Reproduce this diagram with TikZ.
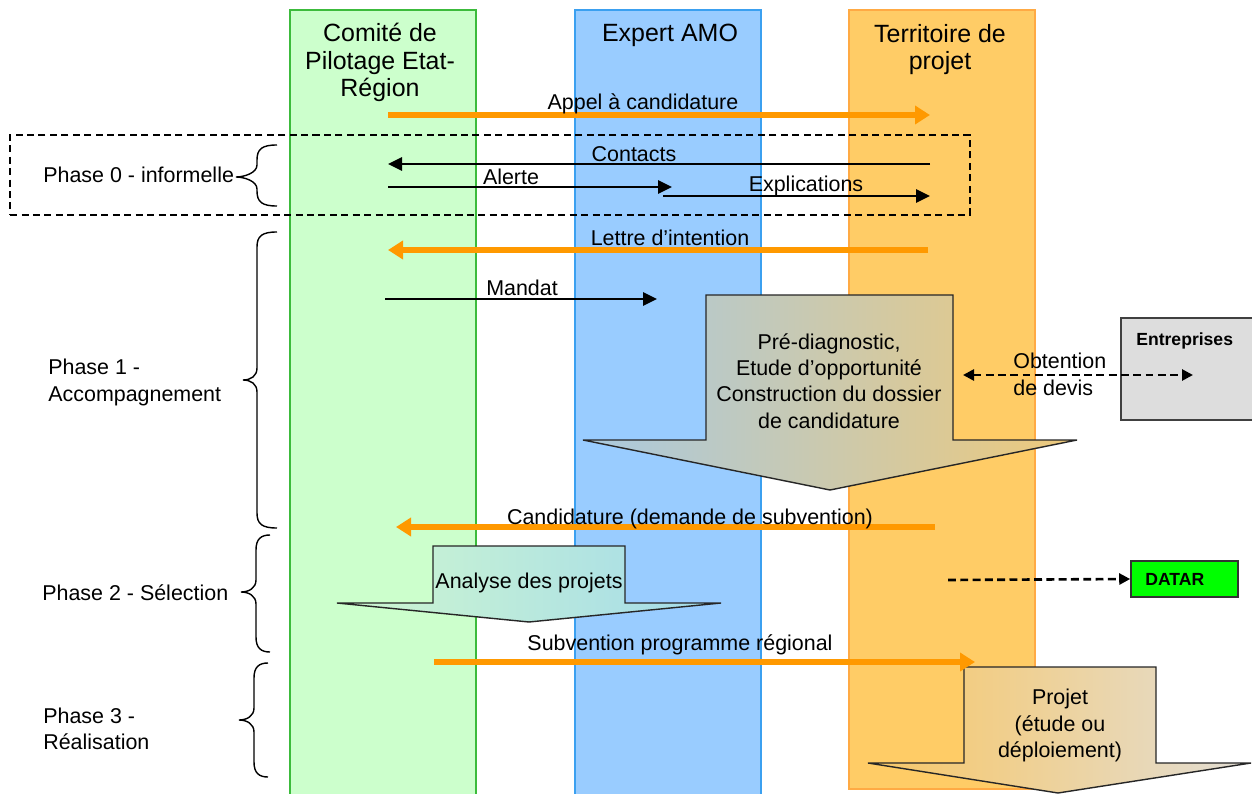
\documentclass[tikz,border=0pt]{standalone}
\usepackage{fontspec}
\setmainfont{Liberation Sans}
\usetikzlibrary{arrows.meta}
\definecolor{colgreen}{HTML}{CCFFCC}
\definecolor{colgreenb}{HTML}{3CBB3C}
\definecolor{colblue}{HTML}{99CCFF}
\definecolor{colblueb}{HTML}{3BA0F0}
\definecolor{colorange}{HTML}{FFCC66}
\definecolor{colorangeb}{HTML}{FFAA44}
\definecolor{arrorange}{HTML}{FF9900}
\definecolor{entgray}{HTML}{DDDDDD}
\definecolor{datargreen}{HTML}{00FF00}
\definecolor{gOneL}{HTML}{A9C9E0}
\definecolor{gOneR}{HTML}{EEC97A}
\definecolor{gTwoL}{HTML}{CFF7CF}
\definecolor{gTwoR}{HTML}{A3DAEB}
\definecolor{gThreeL}{HTML}{F8C766}
\definecolor{gThreeR}{HTML}{E2DED6}
\newcommand{\PhBrace}[6]{%
  \draw[line width=0.8pt] (#1,#4) .. controls ({#2+5},#4) and (#2,{#4+4}) .. (#2,{#4+15})
    -- (#2,{#5-12}) .. controls (#2,{#5-4}) and ({#3+8},#5) .. (#3,#5)
    .. controls ({#3+8},#5) and (#2,{#5+4}) .. (#2,{#5+12})
    -- (#2,{#6-15}) .. controls (#2,{#6-4}) and ({#2+5},#6) .. (#1,#6);}
\begin{document}
\begin{tikzpicture}[x=0.02cm,y=-0.02cm,
  lab/.style={font=\fontsize{12.2}{14.8}\selectfont, inner sep=0pt},
  hdr/.style={font=\fontsize{14.2}{15.9}\selectfont, inner sep=0pt, align=center},
  lane/.style={line width=0.7pt, inner sep=0pt, minimum width=3.72cm},
  orarrow/.style={draw=arrorange, line width=3.4pt, -{Triangle[length=0.3cm,width=0.36cm]}},
  bkarrow/.style={draw=black, line width=1.6pt, -{Triangle[length=0.28cm,width=0.26cm]}},
  dsharrow/.style={draw=black, line width=1.5pt, dash pattern=on 4.5pt off 2.5pt},
  blockarrow/.style={draw=black!85, line width=0.8pt},
  boldlab/.style={font=\bfseries\fontsize{10}{12}\selectfont, inner sep=0pt},
]
\useasboundingbox (0,0) rectangle (1252,794);
\fill[white] (0,0) rectangle (1252,794);

% lanes
\node[lane, draw=colgreenb, fill=colgreen, minimum height=15.8cm] (comite) at (383,405) {};
\node[lane, draw=colblueb, fill=colblue, minimum height=15.8cm] (expert) at (668,405) {};
\node[lane, draw=colorangeb, fill=colorange, minimum height=15.58cm] (terr) at (942,399.5) {};

% headers (anchor=base = baseline of last line)
\node[hdr, anchor=base] (hcomite) at (380,97) {Comité de\\Pilotage Etat-\\Région};
\node[hdr, anchor=base] (hexpert) at (670,42) {Expert AMO};
\node[hdr, anchor=base] (hterr) at (940,70) {Territoire de\\projet};

% phase 0 box
\node[draw, line width=1pt, dash pattern=on 4pt off 2.5pt, minimum width=19.2cm, minimum height=1.6cm, inner sep=0pt] (phasebox) at (490,175) {};

% coordinates for connectors
\coordinate (appS) at (388,115); \coordinate (appE) at (930,115);
\coordinate (conS) at (930,164); \coordinate (conE) at (388,164);
\coordinate (aleS) at (388,187); \coordinate (aleE) at (672,187);
\coordinate (expS) at (663,196); \coordinate (expE) at (930,196);
\coordinate (letS) at (928,250); \coordinate (letE) at (388,250);
\coordinate (manS) at (385,299); \coordinate (manE) at (657,299);
\coordinate (canS) at (935,527); \coordinate (canE) at (396,527);
\coordinate (subS) at (434,662); \coordinate (subE) at (975,662);
\coordinate (devL) at (963,375); \coordinate (devR) at (1193,375);
\coordinate (datS) at (948,580);

% side boxes
\node[draw=black!75, fill=entgray, line width=0.8pt, minimum width=2.82cm, minimum height=2.04cm, inner sep=0pt] (entr) at (1191.5,369) {};
\node[boldlab, anchor=base west] (entrt) at (1136,345) {Entreprises};
\node[draw=black!80, fill=datargreen, line width=0.9pt, minimum width=2.14cm, minimum height=0.72cm, inner sep=0pt] (datar) at (1184.5,579) {};
\node[boldlab, anchor=base west] (datart) at (1145,585) {DATAR};

% block arrows
\path[blockarrow, left color=gOneL, right color=gOneR] (706,295) -- (953,295) -- (953,440) -- (1077,440) -- (830,490) -- (583,440) -- (706,440) -- cycle;
\path[blockarrow, left color=gTwoL, right color=gTwoR] (433,546) -- (625,546) -- (625,603) -- (721,603) -- (529,622) -- (337,603) -- (433,603) -- cycle;
\path[blockarrow, left color=gThreeL, right color=gThreeR] (964,667) -- (1156,667) -- (1156,763) -- (1251,763) -- (1058,793) -- (868,763) -- (964,763) -- cycle;

% connectors
\draw[orarrow] (appS) -- (appE);
\draw[bkarrow] (conS) -- (conE);
\draw[bkarrow] (aleS) -- (aleE);
\draw[bkarrow] (expS) -- (expE);
\draw[orarrow] (letS) -- (letE);
\draw[bkarrow] (manS) -- (manE);
\draw[orarrow] (canS) -- (canE);
\draw[orarrow] (subS) -- (subE);
\draw[dsharrow, {Triangle[length=0.22cm,width=0.22cm]}-{Triangle[length=0.22cm,width=0.22cm]}] (devL) -- (devR);
\draw[dsharrow, -{Triangle[length=0.22cm,width=0.22cm]}] (datS) -- (datar.west);

% labels
\node[lab, anchor=base] (lapp) at (643,110) {Appel à candidature};
\node[lab, anchor=base] (lcon) at (634,162) {Contacts};
\node[lab, anchor=base] (lale) at (511,185) {Alerte};
\node[lab, anchor=base] (lexp) at (806,192) {Explications};
\node[lab, anchor=base] (llet) at (670,245) {Lettre d’intention};
\node[lab, anchor=base] (lman) at (522,296) {Mandat};
\node[lab, anchor=base] (lcan) at (690,524) {Candidature (demande de subvention)};
\node[lab, anchor=base] (lsub) at (680,650) {Subvention programme régional};
\node[lab, anchor=base west, align=left] (ldev) at (1013,395) {Obtention\\de devis};
\node[lab, anchor=base, align=center] (lpre) at (829,428) {Pré-diagnostic,\\Etude d’opportunité\\Construction du dossier\\de candidature};
\node[lab, anchor=base] (lana) at (529,588) {Analyse des projets};
\node[lab, anchor=base, align=center] (lproj) at (1060,757) {Projet\\(étude ou\\déploiement)};

% phases
\node[lab, anchor=base west] (ph0) at (43,183) {Phase 0 - informelle};
\node[lab, anchor=base west, align=left] (ph1) at (48,401) {Phase 1 -\\Accompagnement};
\node[lab, anchor=base west] (ph2) at (42,600) {Phase 2 - Sélection};
\node[lab, anchor=base west, align=left] (ph3) at (43,749) {Phase 3 -\\Réalisation};
\PhBrace{277}{257}{236}{145}{177}{206}
\PhBrace{277}{257}{243}{232}{380}{528}
\PhBrace{270}{256}{241}{535}{592}{652}
\PhBrace{268}{254}{239}{663}{720}{777}
\end{tikzpicture}
\end{document}
